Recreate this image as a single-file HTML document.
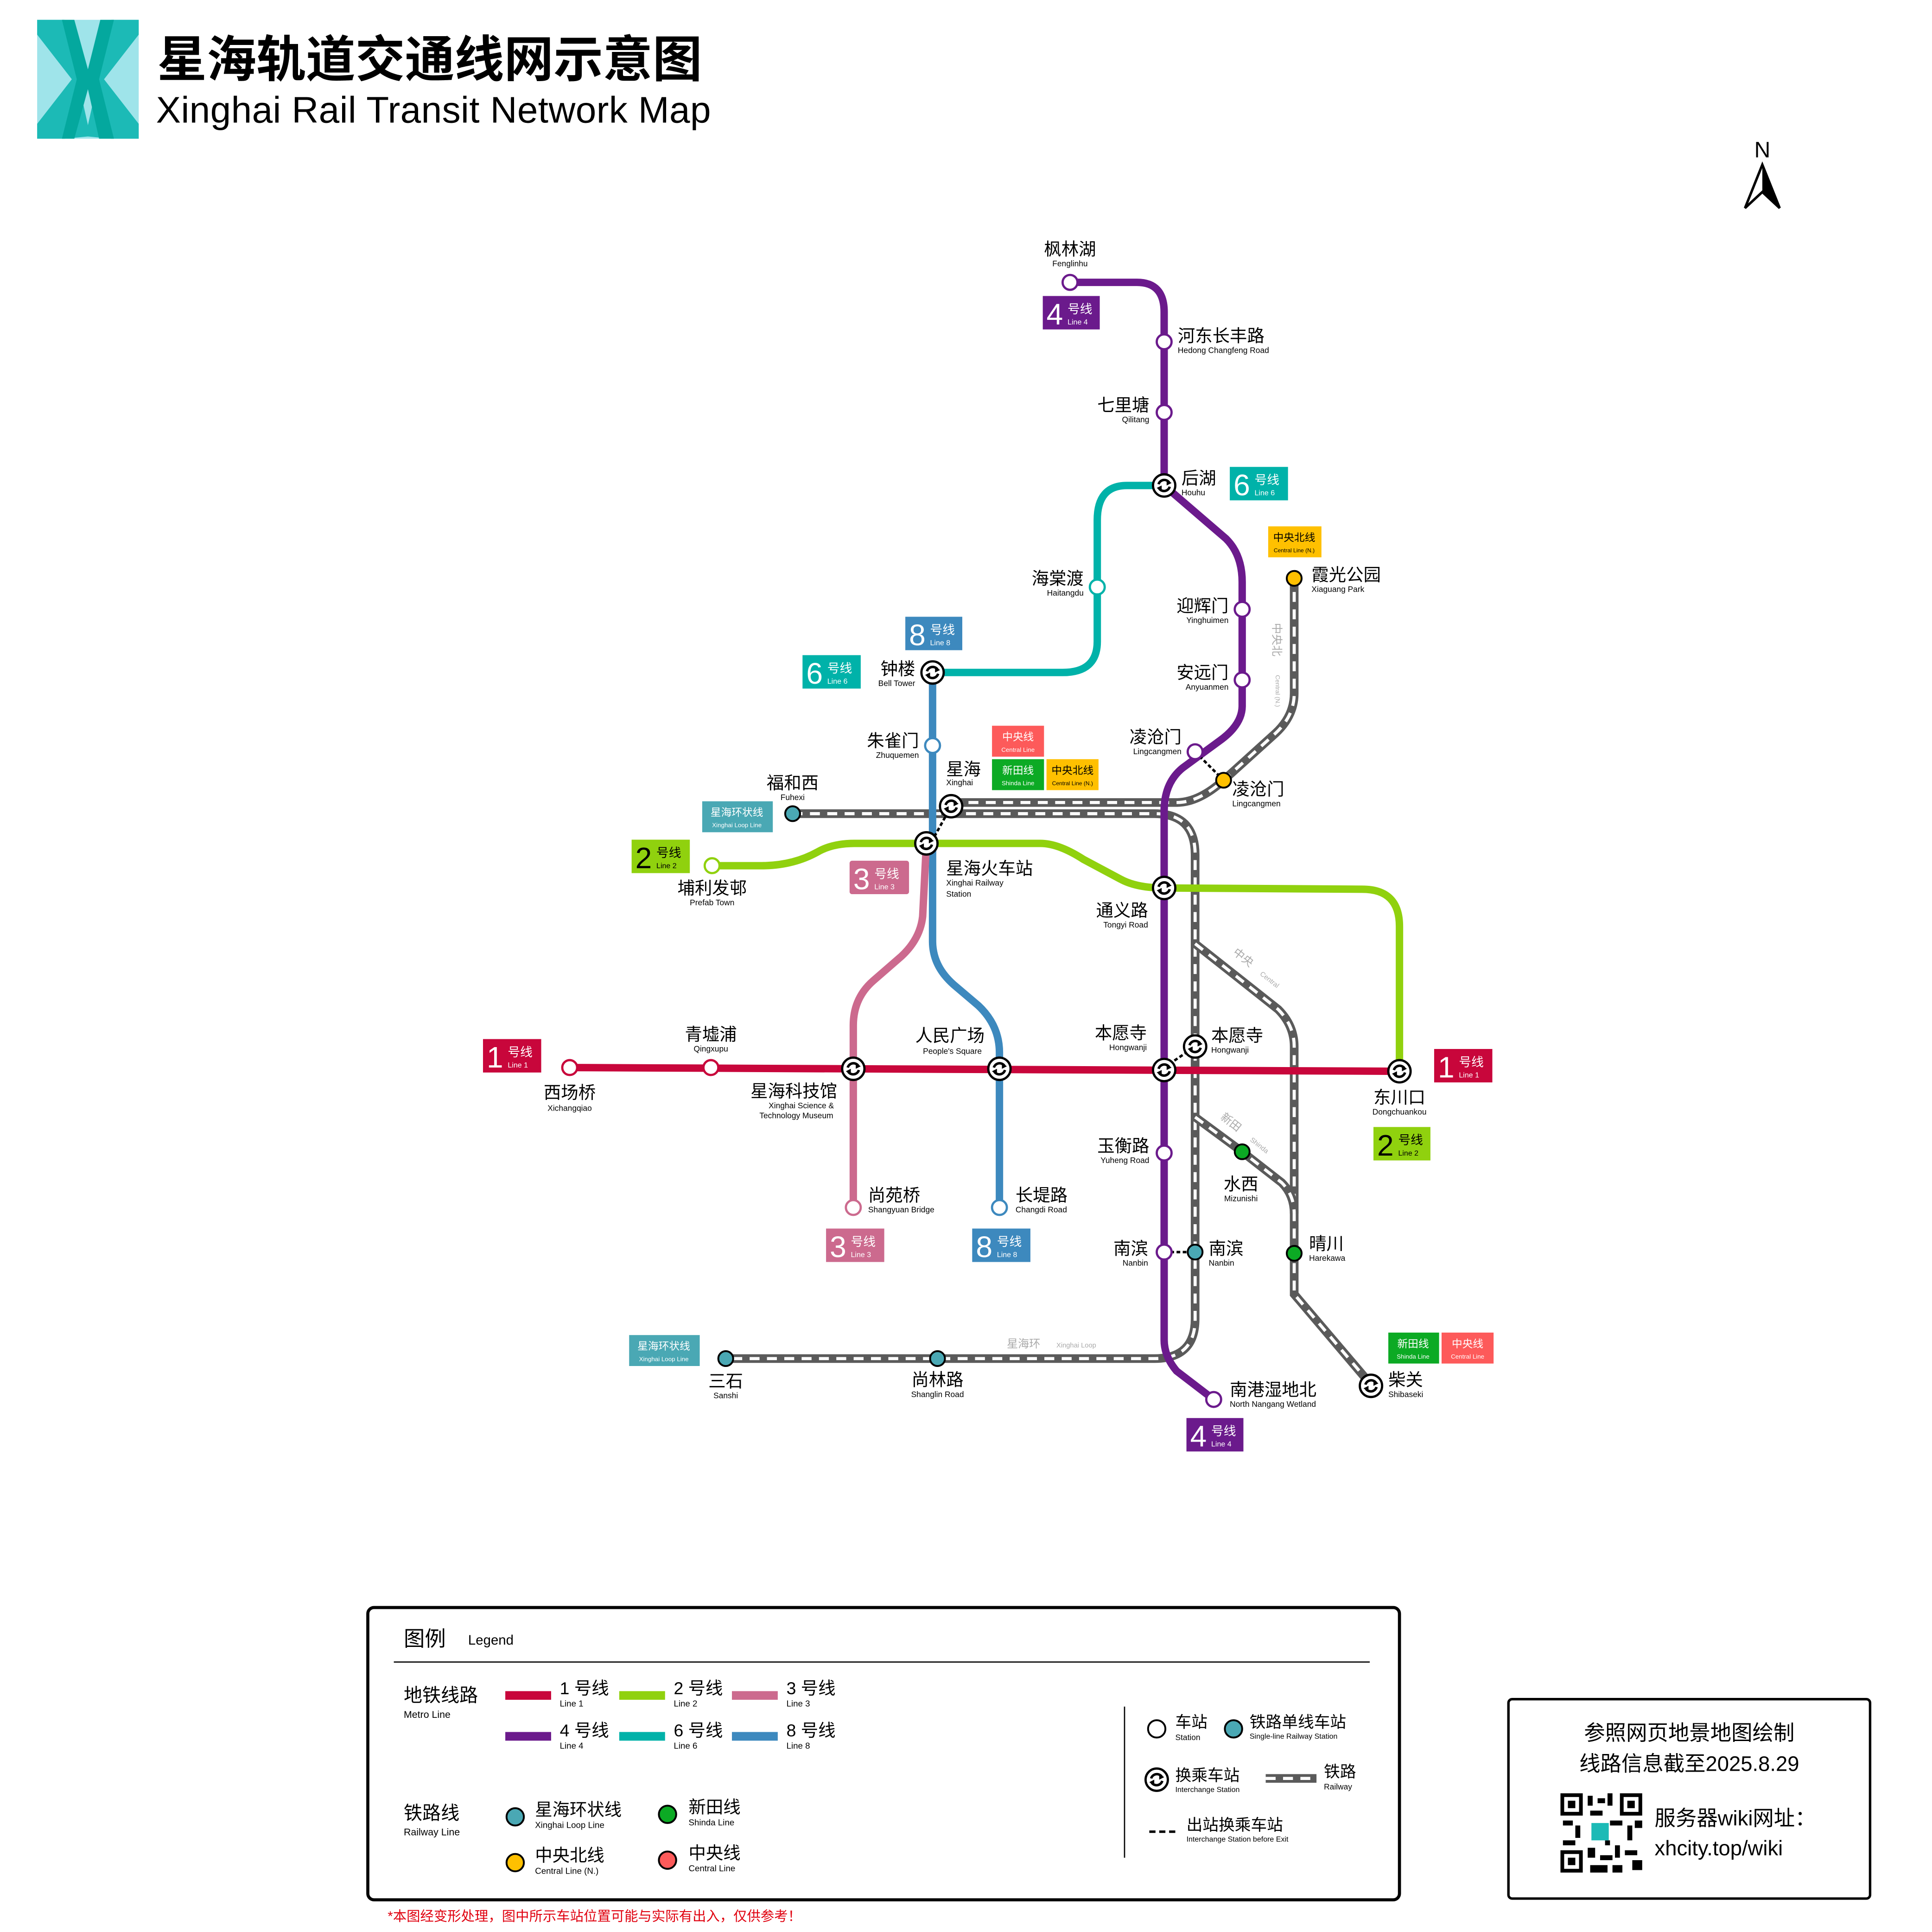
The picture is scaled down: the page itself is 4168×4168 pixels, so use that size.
<!DOCTYPE html>
<html><head><meta charset="utf-8"><style>
html,body{margin:0;padding:0;background:#fff;}
svg{display:block;}
text{font-family:"Liberation Sans","Noto Sans CJK SC",sans-serif;}
.cn{font-size:14px;fill:#000;}
.en{font-size:6.5px;fill:#000;}
.rw{fill:none;stroke:#5a5a5a;stroke-width:7;}
.rwd{fill:none;stroke:#fff;stroke-width:2.5;stroke-dasharray:8 6;}
.st{fill:#fff;stroke-width:1.8;}
</style></head><body>
<svg width="4168" height="4168" viewBox="0 0 1560 1560" xmlns="http://www.w3.org/2000/svg">
<defs>
<g id="ix">
<circle r="9" fill="#fff" stroke="#000" stroke-width="1.8"/>
<path d="M-4.5,-1 A4.8,4.8 0 0 1 4,-2.5" fill="none" stroke="#000" stroke-width="2"/>
<path d="M4.5,1 A4.8,4.8 0 0 1 -4,2.5" fill="none" stroke="#000" stroke-width="2"/>
<path d="M2,-5 L6,-2 L2,0 Z" fill="#000"/>
<path d="M-2,5 L-6,2 L-2,0 Z" fill="#000"/>
</g>
</defs>
<rect width="1560" height="1560" fill="#fff"/>
<!-- logo -->
<polygon points="30,16 112,16 112,112 30,112" fill="#9fe4ea"/>
<polygon points="30,16 52,16 73,110 52,112 30,112 30,100 58,64 30,28" fill="#1cbab6"/>
<polygon points="112,16 90,16 69,110 90,112 112,112 112,100 84,64 112,28" fill="#1cbab6"/>
<polygon points="50,16 60,16 71,56 81,16 92,16 80,64 92,112 80,112 71,72 60,112 50,112 62,64" fill="#04a89e"/>
<text x="127" y="62" font-size="40" font-weight="bold">星海轨道交通线网示意图</text>
<text x="126" y="99" font-size="30" textLength="448">Xinghai Rail Transit Network Map</text>
<!-- north -->
<text x="1423" y="127" font-size="18" text-anchor="middle">N</text>
<path d="M1423,133 L1409,168 L1423,155 L1437,168 Z" fill="#fff" stroke="#000" stroke-width="2"/>
<path d="M1423,133 L1423,155 L1437,168 Z" fill="#000"/>

<!-- railways -->
<g>
<path class="rw" d="M640,657 H932 Q965,657 965,690 V1065 Q965,1097 932,1097 H586"/>
<path class="rwd" d="M640,657 H932 Q965,657 965,690 V1065 Q965,1097 932,1097 H586"/>
<path class="rw" d="M768,648 H950 Q968,648 988,630 L1030,592 Q1045,578 1045,560 V467"/>
<path class="rwd" d="M768,648 H950 Q968,648 988,630 L1030,592 Q1045,578 1045,560 V467"/>
<path class="rw" d="M965,762 L1032,815 Q1045,828 1045,845 V1045 L1107,1118"/>
<path class="rwd" d="M965,762 L1032,815 Q1045,828 1045,845 V1045 L1107,1118"/>
<path class="rw" d="M965,902 L1003,930 L1035,955 Q1045,965 1045,980"/>
<path class="rwd" d="M965,902 L1003,930 L1035,955 Q1045,965 1045,980"/>
</g>
<!-- metro lines -->
<g fill="none" stroke-width="6">
<path d="M460,862 L1130,865" stroke="#c8063b"/>
<path d="M575,699 H615 Q640,699 660,688 Q672,681 690,681 H840 Q855,681 875,694 L905,710 Q918,717 940,717 L1100,718 Q1130,718 1130,748 V865" stroke="#90d10e"/>
<path d="M864,228 H918 Q940,228 940,252 V392 L990,435 Q1003,448 1003,470 V570 Q1003,585 985,598 L955,620 Q940,632 940,655 V1082 Q940,1095 950,1107 L980,1130" stroke="#6b1a8c"/>
<path d="M940,392 H910 Q886,392 886,420 V518 Q886,543 858,543 H753" stroke="#00b2a9"/>
<path d="M753,543 V760 Q753,780 770,795 L790,812 Q807,828 807,850 V975" stroke="#3d89be"/>
<path d="M748,681 L745,740 Q743,758 728,772 L705,792 Q689,806 689,828 V975" stroke="#cc6a8e"/>
</g>
<!-- dotted transfers -->
<g stroke="#000" stroke-width="2" stroke-dasharray="3 2" fill="none">
<path d="M768,651 L752,680"/><path d="M965,607 L988,630"/><path d="M940,862 L965,845"/><path d="M940,1011 L965,1011"/>
</g>
<!-- stations -->
<g>
<circle cx="864" cy="228" r="6" class="st" stroke="#6b1a8c"/>
<circle cx="940" cy="276" r="6" class="st" stroke="#6b1a8c"/>
<circle cx="940" cy="333" r="6" class="st" stroke="#6b1a8c"/>
<circle cx="1003" cy="492" r="6" class="st" stroke="#6b1a8c"/>
<circle cx="1003" cy="549" r="6" class="st" stroke="#6b1a8c"/>
<circle cx="965" cy="607" r="6" class="st" stroke="#6b1a8c"/>
<circle cx="940" cy="931" r="6" class="st" stroke="#6b1a8c"/>
<circle cx="940" cy="1011" r="6" class="st" stroke="#6b1a8c"/>
<circle cx="980" cy="1130" r="6" class="st" stroke="#6b1a8c"/>
<circle cx="886" cy="474" r="6" class="st" stroke="#00b2a9"/>
<circle cx="753" cy="602" r="6" class="st" stroke="#3d89be"/>
<circle cx="807" cy="975" r="6" class="st" stroke="#3d89be"/>
<circle cx="689" cy="975" r="6" class="st" stroke="#cc6a8e"/>
<circle cx="575" cy="699" r="6" class="st" stroke="#90d10e"/>
<circle cx="460" cy="862" r="6" class="st" stroke="#c8063b"/>
<circle cx="574" cy="862" r="6" class="st" stroke="#c8063b"/>
<circle cx="640" cy="657" r="6" fill="#4aa8b4" stroke="#000" stroke-width="1.5"/>
<circle cx="586" cy="1097" r="6" fill="#4aa8b4" stroke="#000" stroke-width="1.5"/>
<circle cx="757" cy="1097" r="6" fill="#4aa8b4" stroke="#000" stroke-width="1.5"/>
<circle cx="965" cy="1011" r="6" fill="#4aa8b4" stroke="#000" stroke-width="1.5"/>
<circle cx="988" cy="630" r="6" fill="#ffc000" stroke="#000" stroke-width="1.5"/>
<circle cx="1045" cy="467" r="6" fill="#ffc000" stroke="#000" stroke-width="1.5"/>
<circle cx="1003" cy="930" r="6" fill="#0caa24" stroke="#000" stroke-width="1.5"/>
<circle cx="1045" cy="1012" r="6" fill="#0caa24" stroke="#000" stroke-width="1.5"/>
<use href="#ix" x="940" y="392"/><use href="#ix" x="753" y="543"/><use href="#ix" x="768" y="651"/>
<use href="#ix" x="748" y="681"/><use href="#ix" x="940" y="717"/><use href="#ix" x="689" y="863"/>
<use href="#ix" x="807" y="863"/><use href="#ix" x="940" y="864"/><use href="#ix" x="965" y="845"/>
<use href="#ix" x="1130" y="865"/><use href="#ix" x="1107" y="1119"/>
</g>
<!-- labels -->
<g>
<text class="cn" x="864" y="206" text-anchor="middle">枫林湖</text><text class="en" x="864" y="215" text-anchor="middle">Fenglinhu</text>
<text class="cn" x="951" y="276">河东长丰路</text><text class="en" x="951" y="285">Hedong Changfeng Road</text>
<text class="cn" x="928" y="332" text-anchor="end">七里塘</text><text class="en" x="928" y="341" text-anchor="end">Qilitang</text>
<text class="cn" x="954" y="391">后湖</text><text class="en" x="954" y="400">Houhu</text>
<text class="cn" x="875" y="472" text-anchor="end">海棠渡</text><text class="en" x="875" y="481" text-anchor="end">Haitangdu</text>
<text class="cn" x="1059" y="469">霞光公园</text><text class="en" x="1059" y="478">Xiaguang Park</text>
<text class="cn" x="992" y="494" text-anchor="end">迎辉门</text><text class="en" x="992" y="503" text-anchor="end">Yinghuimen</text>
<text class="cn" x="992" y="548" text-anchor="end">安远门</text><text class="en" x="992" y="557" text-anchor="end">Anyuanmen</text>
<text class="cn" x="739" y="545" text-anchor="end">钟楼</text><text class="en" x="739" y="554" text-anchor="end">Bell Tower</text>
<text class="cn" x="742" y="603" text-anchor="end">朱雀门</text><text class="en" x="742" y="612" text-anchor="end">Zhuquemen</text>
<text class="cn" x="954" y="600" text-anchor="end">凌沧门</text><text class="en" x="954" y="609" text-anchor="end">Lingcangmen</text>
<text class="cn" x="995" y="642">凌沧门</text><text class="en" x="995" y="651">Lingcangmen</text>
<text class="cn" x="764" y="626">星海</text><text class="en" x="764" y="634">Xinghai</text>
<text class="cn" x="640" y="637" text-anchor="middle">福和西</text><text class="en" x="640" y="646" text-anchor="middle">Fuhexi</text>
<text class="cn" x="764" y="706">星海火车站</text><text class="en" x="764" y="715">Xinghai Railway</text><text class="en" x="764" y="724">Station</text>
<text class="cn" x="575" y="722" text-anchor="middle">埔利发邨</text><text class="en" x="575" y="731" text-anchor="middle">Prefab Town</text>
<text class="cn" x="927" y="740" text-anchor="end">通义路</text><text class="en" x="927" y="749" text-anchor="end">Tongyi Road</text>
<text class="cn" x="926" y="839" text-anchor="end">本愿寺</text><text class="en" x="926" y="848" text-anchor="end">Hongwanji</text>
<text class="cn" x="978" y="841">本愿寺</text><text class="en" x="978" y="850">Hongwanji</text>
<text class="cn" x="767" y="841" text-anchor="middle">人民广场</text><text class="en" x="769" y="851" text-anchor="middle">People's Square</text>
<text class="cn" x="574" y="840" text-anchor="middle">青墟浦</text><text class="en" x="574" y="849" text-anchor="middle">Qingxupu</text>
<text class="cn" x="460" y="887" text-anchor="middle">西场桥</text><text class="en" x="460" y="897" text-anchor="middle">Xichangqiao</text>
<text class="cn" x="641" y="886" text-anchor="middle">星海科技馆</text><text class="en" x="647" y="895" text-anchor="middle">Xinghai Science &amp;</text><text class="en" x="643" y="903" text-anchor="middle">Technology Museum</text>
<text class="cn" x="1130" y="891" text-anchor="middle">东川口</text><text class="en" x="1130" y="900" text-anchor="middle">Dongchuankou</text>
<text class="cn" x="928" y="930" text-anchor="end">玉衡路</text><text class="en" x="928" y="939" text-anchor="end">Yuheng Road</text>
<text class="cn" x="1002" y="961" text-anchor="middle">水西</text><text class="en" x="1002" y="970" text-anchor="middle">Mizunishi</text>
<text class="cn" x="701" y="970">尚苑桥</text><text class="en" x="701" y="979">Shangyuan Bridge</text>
<text class="cn" x="820" y="970">长堤路</text><text class="en" x="820" y="979">Changdi Road</text>
<text class="cn" x="927" y="1013" text-anchor="end">南滨</text><text class="en" x="927" y="1022" text-anchor="end">Nanbin</text>
<text class="cn" x="976" y="1013">南滨</text><text class="en" x="976" y="1022">Nanbin</text>
<text class="cn" x="1057" y="1009">晴川</text><text class="en" x="1057" y="1018">Harekawa</text>
<text class="cn" x="586" y="1120" text-anchor="middle">三石</text><text class="en" x="586" y="1129" text-anchor="middle">Sanshi</text>
<text class="cn" x="757" y="1119" text-anchor="middle">尚林路</text><text class="en" x="757" y="1128" text-anchor="middle">Shanglin Road</text>
<text class="cn" x="993" y="1127">南港湿地北</text><text class="en" x="993" y="1136">North Nangang Wetland</text>
<text class="cn" x="1121" y="1119">柴关</text><text class="en" x="1121" y="1128">Shibaseki</text>
<text x="813" y="1088" font-size="9" fill="#aaa">星海环</text><text x="853" y="1088" font-size="5.5" fill="#aaa">Xinghai Loop</text>
<text x="0" y="0" font-size="9" fill="#aaa" transform="translate(995,770) rotate(38)">中央</text>
<text x="0" y="0" font-size="5.5" fill="#aaa" transform="translate(1017,787) rotate(38)">Central</text>
<text x="0" y="0" font-size="9" fill="#aaa" transform="translate(985,903) rotate(38)">新田</text>
<text x="0" y="0" font-size="5.5" fill="#aaa" transform="translate(1009,921) rotate(38)">Shinda</text>
<text x="0" y="0" font-size="9" fill="#aaa" transform="translate(1028,503) rotate(90)">中央北</text>
<text x="0" y="0" font-size="5" fill="#aaa" transform="translate(1030,545) rotate(90)">Central (N.)</text>
</g>
<!-- line tags -->
<g font-weight="normal">
<g transform="translate(842,239)"><rect width="46" height="27" fill="#6b1a8c"/><text x="3" y="23" font-size="24" fill="#fff">4</text><text x="20" y="14" font-size="10" fill="#fff">号线</text><text x="20" y="23" font-size="6" fill="#fff">Line 4</text></g>
<g transform="translate(993,377)"><rect width="47" height="27" fill="#00b2a9"/><text x="3" y="23" font-size="24" fill="#fff">6</text><text x="20" y="14" font-size="10" fill="#fff">号线</text><text x="20" y="23" font-size="6" fill="#fff">Line 6</text></g>
<g transform="translate(731,498)"><rect width="46" height="27" fill="#3d89be"/><text x="3" y="23" font-size="24" fill="#fff">8</text><text x="20" y="14" font-size="10" fill="#fff">号线</text><text x="20" y="23" font-size="6" fill="#fff">Line 8</text></g>
<g transform="translate(648,529)"><rect width="47" height="27" fill="#00b2a9"/><text x="3" y="23" font-size="24" fill="#fff">6</text><text x="20" y="14" font-size="10" fill="#fff">号线</text><text x="20" y="23" font-size="6" fill="#fff">Line 6</text></g>
<g transform="translate(510,678)"><rect width="47" height="27" fill="#90d10e"/><text x="3" y="23" font-size="24" fill="#000">2</text><text x="20" y="14" font-size="10" fill="#000">号线</text><text x="20" y="23" font-size="6" fill="#000">Line 2</text></g>
<g transform="translate(686,695)"><rect width="48" height="27" rx="2" fill="#cc6a8e"/><text x="3" y="23" font-size="24" fill="#fff">3</text><text x="20" y="14" font-size="10" fill="#fff">号线</text><text x="20" y="23" font-size="6" fill="#fff">Line 3</text></g>
<g transform="translate(390,839)"><rect width="47" height="27" fill="#c8063b"/><text x="3" y="23" font-size="24" fill="#fff">1</text><text x="20" y="14" font-size="10" fill="#fff">号线</text><text x="20" y="23" font-size="6" fill="#fff">Line 1</text></g>
<g transform="translate(1158,847)"><rect width="47" height="27" fill="#c8063b"/><text x="3" y="23" font-size="24" fill="#fff">1</text><text x="20" y="14" font-size="10" fill="#fff">号线</text><text x="20" y="23" font-size="6" fill="#fff">Line 1</text></g>
<g transform="translate(1109,910)"><rect width="46" height="27" fill="#90d10e"/><text x="3" y="23" font-size="24" fill="#000">2</text><text x="20" y="14" font-size="10" fill="#000">号线</text><text x="20" y="23" font-size="6" fill="#000">Line 2</text></g>
<g transform="translate(667,992)"><rect width="47" height="27" fill="#cc6a8e"/><text x="3" y="23" font-size="24" fill="#fff">3</text><text x="20" y="14" font-size="10" fill="#fff">号线</text><text x="20" y="23" font-size="6" fill="#fff">Line 3</text></g>
<g transform="translate(785,992)"><rect width="47" height="27" fill="#3d89be"/><text x="3" y="23" font-size="24" fill="#fff">8</text><text x="20" y="14" font-size="10" fill="#fff">号线</text><text x="20" y="23" font-size="6" fill="#fff">Line 8</text></g>
<g transform="translate(958,1145)"><rect width="46" height="27" fill="#6b1a8c"/><text x="3" y="23" font-size="24" fill="#fff">4</text><text x="20" y="14" font-size="10" fill="#fff">号线</text><text x="20" y="23" font-size="6" fill="#fff">Line 4</text></g>
</g>
<!-- railway tags -->
<g>
<rect x="1024" y="425" width="43" height="25" fill="#ffc000"/><text x="1045" y="437" font-size="8.5" text-anchor="middle">中央北线</text><text x="1045" y="446" font-size="4.5" text-anchor="middle">Central Line (N.)</text>
<rect x="801" y="586" width="42" height="25" fill="#fd5a5a"/><text x="822" y="598" font-size="8.5" fill="#fff" text-anchor="middle">中央线</text><text x="822" y="607" font-size="5" fill="#fff" text-anchor="middle">Central Line</text>
<rect x="801" y="613" width="42" height="25" fill="#0caa24"/><text x="822" y="625" font-size="8.5" fill="#fff" text-anchor="middle">新田线</text><text x="822" y="634" font-size="5" fill="#fff" text-anchor="middle">Shinda Line</text>
<rect x="845" y="613" width="42" height="25" fill="#ffc000"/><text x="866" y="625" font-size="8.5" text-anchor="middle">中央北线</text><text x="866" y="634" font-size="4.5" text-anchor="middle">Central Line (N.)</text>
<rect x="567" y="647" width="57" height="25" fill="#4aa8b4"/><text x="595" y="659" font-size="8.5" fill="#fff" text-anchor="middle">星海环状线</text><text x="595" y="668" font-size="5" fill="#fff" text-anchor="middle">Xinghai Loop Line</text>
<rect x="508" y="1078" width="57" height="25" fill="#4aa8b4"/><text x="536" y="1090" font-size="8.5" fill="#fff" text-anchor="middle">星海环状线</text><text x="536" y="1099" font-size="5" fill="#fff" text-anchor="middle">Xinghai Loop Line</text>
<rect x="1121" y="1076" width="41" height="25" fill="#0caa24"/><text x="1141" y="1088" font-size="8.5" fill="#fff" text-anchor="middle">新田线</text><text x="1141" y="1097" font-size="5" fill="#fff" text-anchor="middle">Shinda Line</text>
<rect x="1164" y="1076" width="42" height="25" fill="#fd5a5a"/><text x="1185" y="1088" font-size="8.5" fill="#fff" text-anchor="middle">中央线</text><text x="1185" y="1097" font-size="5" fill="#fff" text-anchor="middle">Central Line</text>
</g>
<!-- legend -->
<rect x="297" y="1298" width="833" height="236" rx="5" fill="none" stroke="#000" stroke-width="2.5"/>
<text x="326" y="1329" font-size="17">图例</text><text x="378" y="1328" font-size="11">Legend</text>
<line x1="318" y1="1342" x2="1106" y2="1342" stroke="#000" stroke-width="1"/>
<text x="326" y="1374" font-size="15">地铁线路</text><text x="326" y="1387" font-size="8">Metro Line</text>
<g stroke-width="7">
<line x1="408" y1="1369" x2="445" y2="1369" stroke="#c8063b"/><line x1="500" y1="1369" x2="537" y2="1369" stroke="#90d10e"/><line x1="591" y1="1369" x2="628" y2="1369" stroke="#cc6a8e"/>
<line x1="408" y1="1402" x2="445" y2="1402" stroke="#6b1a8c"/><line x1="500" y1="1402" x2="537" y2="1402" stroke="#00b2a9"/><line x1="591" y1="1402" x2="628" y2="1402" stroke="#3d89be"/>
</g>
<g font-size="14"><text x="452" y="1368">1 号线</text><text x="544" y="1368">2 号线</text><text x="635" y="1368">3 号线</text>
<text x="452" y="1402">4 号线</text><text x="544" y="1402">6 号线</text><text x="635" y="1402">8 号线</text></g>
<g font-size="7"><text x="452" y="1378">Line 1</text><text x="544" y="1378">Line 2</text><text x="635" y="1378">Line 3</text>
<text x="452" y="1412">Line 4</text><text x="544" y="1412">Line 6</text><text x="635" y="1412">Line 8</text></g>
<text x="326" y="1469" font-size="15">铁路线</text><text x="326" y="1482" font-size="8">Railway Line</text>
<circle cx="416" cy="1467" r="7" fill="#4aa8b4" stroke="#000" stroke-width="1.5"/><text x="432" y="1466" font-size="14">星海环状线</text><text x="432" y="1476" font-size="7">Xinghai Loop Line</text>
<circle cx="539" cy="1465" r="7" fill="#0caa24" stroke="#000" stroke-width="1.5"/><text x="556" y="1464" font-size="14">新田线</text><text x="556" y="1474" font-size="7">Shinda Line</text>
<circle cx="416" cy="1504" r="7" fill="#ffc000" stroke="#000" stroke-width="1.5"/><text x="432" y="1503" font-size="14">中央北线</text><text x="432" y="1513" font-size="7">Central Line (N.)</text>
<circle cx="539" cy="1502" r="7" fill="#fd5a5a" stroke="#000" stroke-width="1.5"/><text x="556" y="1501" font-size="14">中央线</text><text x="556" y="1511" font-size="7">Central Line</text>
<line x1="908" y1="1378" x2="908" y2="1500" stroke="#000" stroke-width="1"/>
<circle cx="934" cy="1396" r="7" fill="#fff" stroke="#000" stroke-width="1.5"/><text x="949" y="1395" font-size="13">车站</text><text x="949" y="1405" font-size="6.5">Station</text>
<circle cx="996" cy="1396" r="7" fill="#4aa8b4" stroke="#000" stroke-width="1.5"/><text x="1009" y="1395" font-size="13">铁路单线车站</text><text x="1009" y="1404" font-size="6">Single-line Railway Station</text>
<use href="#ix" x="934" y="1437"/><text x="949" y="1438" font-size="13">换乘车站</text><text x="949" y="1447" font-size="6">Interchange Station</text>
<path class="rw" d="M1022,1436 H1063"/><path class="rwd" d="M1022,1436 H1063"/><text x="1069" y="1435" font-size="13">铁路</text><text x="1069" y="1445" font-size="6.5">Railway</text>
<line x1="928" y1="1479" x2="950" y2="1479" stroke="#000" stroke-width="2" stroke-dasharray="5 3"/><text x="958" y="1478" font-size="13">出站换乘车站</text><text x="958" y="1487" font-size="6">Interchange Station before Exit</text>
<text x="313" y="1551" font-size="11" fill="#e0000f">*本图经变形处理，图中所示车站位置可能与实际有出入，仅供参考！</text>
<!-- info box -->
<rect x="1218" y="1372" width="292" height="161" rx="3" fill="none" stroke="#000" stroke-width="2"/>
<text x="1364" y="1405" font-size="17" text-anchor="middle">参照网页地景地图绘制</text>
<text x="1364" y="1430" font-size="17" text-anchor="middle">线路信息截至2025.8.29</text>
<g fill="#000">
<rect x="1260" y="1448" width="66" height="64" fill="#fff"/>
<rect x="1260" y="1448" width="18" height="18"/><rect x="1263" y="1451" width="12" height="12" fill="#fff"/><rect x="1266" y="1454" width="6" height="6"/>
<rect x="1308" y="1448" width="18" height="18"/><rect x="1311" y="1451" width="12" height="12" fill="#fff"/><rect x="1314" y="1454" width="6" height="6"/>
<rect x="1260" y="1494" width="18" height="18"/><rect x="1263" y="1497" width="12" height="12" fill="#fff"/><rect x="1266" y="1500" width="6" height="6"/>
<rect x="1282" y="1450" width="4" height="8"/><rect x="1290" y="1452" width="6" height="4"/><rect x="1298" y="1448" width="4" height="10"/><rect x="1284" y="1462" width="10" height="4"/>
<rect x="1262" y="1470" width="8" height="4"/><rect x="1272" y="1474" width="4" height="10"/><rect x="1262" y="1486" width="10" height="4"/><rect x="1300" y="1470" width="10" height="4"/>
<rect x="1314" y="1474" width="4" height="12"/><rect x="1320" y="1470" width="6" height="6"/><rect x="1282" y="1492" width="6" height="8"/><rect x="1292" y="1498" width="10" height="4"/>
<rect x="1304" y="1490" width="4" height="10"/><rect x="1312" y="1494" width="10" height="4"/><rect x="1318" y="1502" width="8" height="8"/><rect x="1284" y="1506" width="14" height="6"/>
<rect x="1302" y="1506" width="8" height="6"/><rect x="1296" y="1486" width="4" height="4"/>
<rect x="1285" y="1472" width="14" height="14" fill="#1cbab6"/>
</g>
<text x="1336" y="1474" font-size="17">服务器wiki网址：</text>
<text x="1336" y="1498" font-size="17">xhcity.top/wiki</text>
</svg>
</body></html>
